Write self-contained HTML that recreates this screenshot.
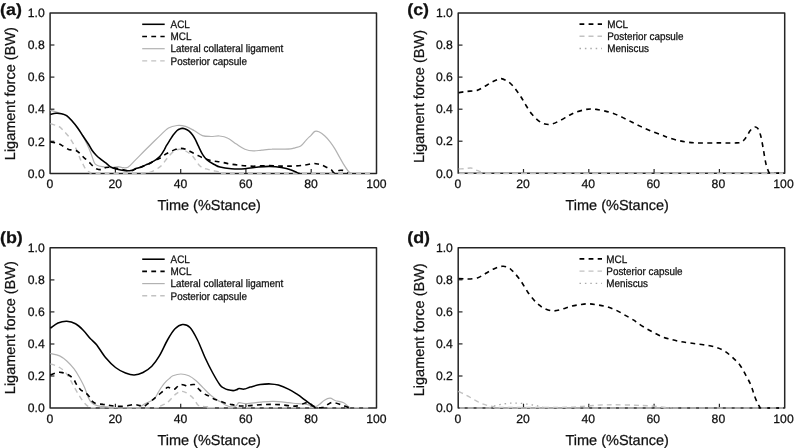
<!DOCTYPE html>
<html><head><meta charset="utf-8"><style>
html,body{margin:0;padding:0;background:#fff;width:795px;height:448px;overflow:hidden}
svg{display:block;will-change:transform}
text{font-family:"Liberation Sans",sans-serif;fill:#111;stroke:#111;stroke-width:0.25px;text-rendering:geometricPrecision}
.tk{font-size:12.2px}
.tt{font-size:14.5px}
.lg{font-size:9.9px}
.lt{font-size:16.4px;font-weight:bold}
</style></head><body>
<svg width="795" height="448" viewBox="0 0 795 448">
<rect x="0" y="0" width="795" height="448" fill="#fff"/>
<path d="M50.1,12.9 H376.5 V173.4 H50.1 Z" style="stroke:#252525;stroke-width:1.5;fill:none;stroke-linejoin:round"/>
<line x1="50.1" y1="141.3" x2="54.4" y2="141.3" style="stroke:#252525;stroke-width:1.2"/>
<line x1="115.4" y1="173.4" x2="115.4" y2="169.1" style="stroke:#252525;stroke-width:1.2"/>
<line x1="50.1" y1="109.2" x2="54.4" y2="109.2" style="stroke:#252525;stroke-width:1.2"/>
<line x1="180.7" y1="173.4" x2="180.7" y2="169.1" style="stroke:#252525;stroke-width:1.2"/>
<line x1="50.1" y1="77.1" x2="54.4" y2="77.1" style="stroke:#252525;stroke-width:1.2"/>
<line x1="245.9" y1="173.4" x2="245.9" y2="169.1" style="stroke:#252525;stroke-width:1.2"/>
<line x1="50.1" y1="45.0" x2="54.4" y2="45.0" style="stroke:#252525;stroke-width:1.2"/>
<line x1="311.2" y1="173.4" x2="311.2" y2="169.1" style="stroke:#252525;stroke-width:1.2"/>
<path d="M50.1,247.8 H376.5 V408.1 H50.1 Z" style="stroke:#252525;stroke-width:1.5;fill:none;stroke-linejoin:round"/>
<line x1="50.1" y1="376.0" x2="54.4" y2="376.0" style="stroke:#252525;stroke-width:1.2"/>
<line x1="115.4" y1="408.1" x2="115.4" y2="403.8" style="stroke:#252525;stroke-width:1.2"/>
<line x1="50.1" y1="344.0" x2="54.4" y2="344.0" style="stroke:#252525;stroke-width:1.2"/>
<line x1="180.7" y1="408.1" x2="180.7" y2="403.8" style="stroke:#252525;stroke-width:1.2"/>
<line x1="50.1" y1="311.9" x2="54.4" y2="311.9" style="stroke:#252525;stroke-width:1.2"/>
<line x1="245.9" y1="408.1" x2="245.9" y2="403.8" style="stroke:#252525;stroke-width:1.2"/>
<line x1="50.1" y1="279.9" x2="54.4" y2="279.9" style="stroke:#252525;stroke-width:1.2"/>
<line x1="311.2" y1="408.1" x2="311.2" y2="403.8" style="stroke:#252525;stroke-width:1.2"/>
<path d="M458.2,13.0 H784.7 V173.3 H458.2 Z" style="stroke:#252525;stroke-width:1.5;fill:none;stroke-linejoin:round"/>
<line x1="458.2" y1="141.2" x2="462.5" y2="141.2" style="stroke:#252525;stroke-width:1.2"/>
<line x1="523.5" y1="173.3" x2="523.5" y2="169.0" style="stroke:#252525;stroke-width:1.2"/>
<line x1="458.2" y1="109.2" x2="462.5" y2="109.2" style="stroke:#252525;stroke-width:1.2"/>
<line x1="588.8" y1="173.3" x2="588.8" y2="169.0" style="stroke:#252525;stroke-width:1.2"/>
<line x1="458.2" y1="77.1" x2="462.5" y2="77.1" style="stroke:#252525;stroke-width:1.2"/>
<line x1="654.1" y1="173.3" x2="654.1" y2="169.0" style="stroke:#252525;stroke-width:1.2"/>
<line x1="458.2" y1="45.1" x2="462.5" y2="45.1" style="stroke:#252525;stroke-width:1.2"/>
<line x1="719.4" y1="173.3" x2="719.4" y2="169.0" style="stroke:#252525;stroke-width:1.2"/>
<path d="M458.2,247.8 H784.7 V408.0 H458.2 Z" style="stroke:#252525;stroke-width:1.5;fill:none;stroke-linejoin:round"/>
<line x1="458.2" y1="376.0" x2="462.5" y2="376.0" style="stroke:#252525;stroke-width:1.2"/>
<line x1="523.5" y1="408.0" x2="523.5" y2="403.7" style="stroke:#252525;stroke-width:1.2"/>
<line x1="458.2" y1="343.9" x2="462.5" y2="343.9" style="stroke:#252525;stroke-width:1.2"/>
<line x1="588.8" y1="408.0" x2="588.8" y2="403.7" style="stroke:#252525;stroke-width:1.2"/>
<line x1="458.2" y1="311.9" x2="462.5" y2="311.9" style="stroke:#252525;stroke-width:1.2"/>
<line x1="654.1" y1="408.0" x2="654.1" y2="403.7" style="stroke:#252525;stroke-width:1.2"/>
<line x1="458.2" y1="279.8" x2="462.5" y2="279.8" style="stroke:#252525;stroke-width:1.2"/>
<line x1="719.4" y1="408.0" x2="719.4" y2="403.7" style="stroke:#252525;stroke-width:1.2"/>
<text x="44.8" y="177.6" class="tk" text-anchor="end">0.0</text>
<text x="44.8" y="145.5" class="tk" text-anchor="end">0.2</text>
<text x="44.8" y="113.4" class="tk" text-anchor="end">0.4</text>
<text x="44.8" y="81.3" class="tk" text-anchor="end">0.6</text>
<text x="44.8" y="49.2" class="tk" text-anchor="end">0.8</text>
<text x="44.8" y="17.1" class="tk" text-anchor="end">1.0</text>
<text x="49.9" y="188.3" class="tk" text-anchor="middle">0</text>
<text x="115.2" y="188.3" class="tk" text-anchor="middle">20</text>
<text x="180.5" y="188.3" class="tk" text-anchor="middle">40</text>
<text x="245.7" y="188.3" class="tk" text-anchor="middle">60</text>
<text x="311.0" y="188.3" class="tk" text-anchor="middle">80</text>
<text x="376.3" y="188.3" class="tk" text-anchor="middle">100</text>
<text x="209.1" y="210.3" class="tt" text-anchor="middle">Time (%Stance)</text>
<text transform="translate(14.8,93.7) rotate(-90)" class="tt" text-anchor="middle">Ligament force (BW)</text>
<text transform="translate(0.0,14.9) scale(1.09,1)" class="lt">(a)</text>
<text x="44.8" y="412.3" class="tk" text-anchor="end">0.0</text>
<text x="44.8" y="380.2" class="tk" text-anchor="end">0.2</text>
<text x="44.8" y="348.2" class="tk" text-anchor="end">0.4</text>
<text x="44.8" y="316.1" class="tk" text-anchor="end">0.6</text>
<text x="44.8" y="284.1" class="tk" text-anchor="end">0.8</text>
<text x="44.8" y="252.0" class="tk" text-anchor="end">1.0</text>
<text x="49.9" y="423.0" class="tk" text-anchor="middle">0</text>
<text x="115.2" y="423.0" class="tk" text-anchor="middle">20</text>
<text x="180.5" y="423.0" class="tk" text-anchor="middle">40</text>
<text x="245.7" y="423.0" class="tk" text-anchor="middle">60</text>
<text x="311.0" y="423.0" class="tk" text-anchor="middle">80</text>
<text x="376.3" y="423.0" class="tk" text-anchor="middle">100</text>
<text x="209.1" y="445.0" class="tt" text-anchor="middle">Time (%Stance)</text>
<text transform="translate(14.8,327.7) rotate(-90)" class="tt" text-anchor="middle">Ligament force (BW)</text>
<text transform="translate(0.0,242.8) scale(1.09,1)" class="lt">(b)</text>
<text x="452.9" y="177.5" class="tk" text-anchor="end">0.0</text>
<text x="452.9" y="145.4" class="tk" text-anchor="end">0.2</text>
<text x="452.9" y="113.4" class="tk" text-anchor="end">0.4</text>
<text x="452.9" y="81.3" class="tk" text-anchor="end">0.6</text>
<text x="452.9" y="49.3" class="tk" text-anchor="end">0.8</text>
<text x="452.9" y="17.2" class="tk" text-anchor="end">1.0</text>
<text x="458.0" y="188.2" class="tk" text-anchor="middle">0</text>
<text x="523.1" y="188.2" class="tk" text-anchor="middle">20</text>
<text x="588.2" y="188.2" class="tk" text-anchor="middle">40</text>
<text x="653.3" y="188.2" class="tk" text-anchor="middle">60</text>
<text x="718.4" y="188.2" class="tk" text-anchor="middle">80</text>
<text x="783.5" y="188.2" class="tk" text-anchor="middle">100</text>
<text x="617.2" y="210.2" class="tt" text-anchor="middle">Time (%Stance)</text>
<text transform="translate(423.9,96.5) rotate(-90)" class="tt" text-anchor="middle">Ligament force (BW)</text>
<text transform="translate(407.2,14.7) scale(1.09,1)" class="lt">(c)</text>
<text x="452.9" y="412.2" class="tk" text-anchor="end">0.0</text>
<text x="452.9" y="380.2" class="tk" text-anchor="end">0.2</text>
<text x="452.9" y="348.1" class="tk" text-anchor="end">0.4</text>
<text x="452.9" y="316.1" class="tk" text-anchor="end">0.6</text>
<text x="452.9" y="284.0" class="tk" text-anchor="end">0.8</text>
<text x="452.9" y="252.0" class="tk" text-anchor="end">1.0</text>
<text x="458.0" y="422.9" class="tk" text-anchor="middle">0</text>
<text x="523.1" y="422.9" class="tk" text-anchor="middle">20</text>
<text x="588.2" y="422.9" class="tk" text-anchor="middle">40</text>
<text x="653.3" y="422.9" class="tk" text-anchor="middle">60</text>
<text x="718.4" y="422.9" class="tk" text-anchor="middle">80</text>
<text x="783.5" y="422.9" class="tk" text-anchor="middle">100</text>
<text x="617.2" y="444.9" class="tt" text-anchor="middle">Time (%Stance)</text>
<text transform="translate(423.9,329.8) rotate(-90)" class="tt" text-anchor="middle">Ligament force (BW)</text>
<text transform="translate(407.2,242.6) scale(1.09,1)" class="lt">(d)</text>
<path d="M50.3,123.7 C51.7,124.2 56.6,125.4 58.7,126.4 C60.8,127.4 61.1,128.2 62.7,129.8 C64.3,131.4 66.3,133.5 68.1,135.8 C69.9,138.1 71.8,141.1 73.4,143.8 C75.0,146.5 76.4,149.4 77.5,151.9 C78.6,154.4 79.2,156.6 80.1,158.6 C81.0,160.6 81.8,162.1 82.8,163.9 C83.8,165.7 84.8,168.1 86.0,169.5 C87.2,170.9 88.5,171.9 90.0,172.5 C91.5,173.1 86.7,173.1 95.0,173.2 C103.3,173.3 131.5,173.3 140.0,173.2 C148.5,173.1 144.0,172.9 146.0,172.6 C148.0,172.3 149.4,172.7 151.8,171.6 C154.2,170.5 158.0,168.6 160.7,166.2 C163.4,163.9 165.7,159.8 167.9,157.3 C170.1,154.8 172.2,152.3 174.1,151.0 C176.0,149.7 177.6,149.3 179.5,149.3 C181.4,149.3 183.5,149.8 185.7,151.0 C187.9,152.2 190.5,153.9 192.9,156.4 C195.3,158.9 197.5,163.8 200.0,166.0 C202.5,168.2 205.0,168.5 208.0,169.4 C211.0,170.3 215.1,171.0 217.9,171.6 C220.7,172.2 222.7,172.7 225.0,173.0 C227.3,173.3 207.8,173.2 232.0,173.2 C256.2,173.2 347.0,173.2 370.0,173.2" style="stroke:#c2c2c2;stroke-width:1.4;fill:none;stroke-dasharray:5 4"/>
<path d="M50.3,110.4 C51.5,110.7 55.1,111.7 57.4,112.4 C59.7,113.1 61.8,113.2 64.0,114.4 C66.2,115.6 68.5,117.5 70.8,119.7 C73.0,121.9 75.5,124.9 77.5,127.6 C79.5,130.2 81.2,132.9 82.8,135.6 C84.3,138.3 85.4,140.9 86.8,143.8 C88.2,146.7 89.7,150.1 90.9,153.2 C92.1,156.3 93.2,160.4 94.2,162.4 C95.2,164.4 95.7,164.5 97.0,165.2 C98.3,165.9 99.9,166.2 102.1,166.6 C104.3,167.0 107.4,167.6 110.1,167.6 C112.8,167.6 116.2,166.6 118.2,166.6 C120.2,166.6 120.5,167.5 122.2,167.6 C123.9,167.7 126.0,168.3 128.2,167.1 C130.4,165.8 132.8,162.6 135.3,160.1 C137.8,157.6 140.8,154.5 143.3,152.0 C145.8,149.5 147.6,147.7 150.4,145.0 C153.2,142.3 157.0,138.4 160.0,135.6 C163.0,132.8 165.7,129.7 168.5,128.0 C171.3,126.3 174.2,125.8 177.0,125.5 C179.8,125.2 182.7,125.5 185.5,126.3 C188.3,127.1 191.2,128.9 194.0,130.5 C196.8,132.1 199.6,134.6 202.4,135.6 C205.2,136.6 208.1,136.4 210.9,136.5 C213.7,136.6 216.6,135.7 219.4,136.0 C222.2,136.3 225.1,136.8 227.9,138.2 C230.7,139.5 233.6,142.3 236.4,144.1 C239.2,145.9 242.1,148.1 244.9,149.2 C247.7,150.3 250.5,150.8 253.3,150.9 C256.1,151.1 258.7,150.4 261.8,150.1 C264.9,149.8 268.6,149.3 272.0,149.2 C275.4,149.0 278.9,149.2 282.0,149.2 C285.1,149.1 288.3,149.1 290.5,148.9 C292.7,148.7 293.3,148.3 295.0,147.8 C296.7,147.3 298.8,147.4 300.7,146.1 C302.6,144.8 304.7,141.6 306.4,139.8 C308.1,138.0 309.6,136.7 311.0,135.3 C312.4,133.9 313.6,132.0 314.9,131.4 C316.2,130.8 317.3,131.1 318.9,131.8 C320.5,132.5 322.7,134.1 324.6,135.8 C326.5,137.5 328.6,139.9 330.3,142.1 C332.0,144.3 333.4,146.4 334.9,148.9 C336.4,151.4 337.9,154.2 339.4,156.9 C340.9,159.6 342.5,162.5 344.0,164.9 C345.5,167.3 347.3,170.1 348.5,171.5 C349.7,172.9 350.6,173.0 351.0,173.3" style="stroke:#b2b2b2;stroke-width:1.2;fill:none"/>
<path d="M50.3,141.8 C51.7,142.1 56.6,143.1 58.7,143.8 C60.8,144.5 61.4,145.1 63.0,146.0 C64.6,146.9 66.6,148.5 68.1,149.2 C69.6,149.9 70.7,149.8 72.0,150.0 C73.3,150.2 74.8,149.9 76.1,150.5 C77.4,151.1 78.7,152.3 80.0,153.5 C81.3,154.7 82.8,156.6 84.2,157.9 C85.6,159.2 86.7,159.8 88.2,161.2 C89.7,162.6 91.5,164.8 93.0,166.1 C94.5,167.4 95.5,168.5 97.0,169.1 C98.5,169.7 100.5,169.8 102.0,169.5 C103.5,169.2 104.3,167.8 106.0,167.5 C107.7,167.2 109.7,167.2 112.0,167.5 C114.3,167.8 117.0,168.4 120.0,169.0 C123.0,169.6 127.5,170.9 130.0,171.0 C132.5,171.1 133.5,169.8 135.0,169.3 C136.5,168.8 137.6,168.4 139.0,167.9 C140.4,167.4 141.9,166.8 143.3,166.2 C144.7,165.6 146.0,165.1 147.4,164.5 C148.8,163.9 150.3,163.1 151.5,162.5 C152.7,161.9 153.5,161.5 154.5,161.0 C155.5,160.5 156.3,159.9 157.3,159.4 C158.3,158.9 159.3,158.7 160.7,157.8 C162.1,156.9 164.1,155.2 165.6,154.2 C167.1,153.2 168.0,152.8 169.7,152.0 C171.4,151.2 174.1,149.9 175.9,149.3 C177.7,148.7 178.8,148.4 180.4,148.4 C182.0,148.4 183.3,148.4 185.7,149.3 C188.1,150.2 191.6,152.3 194.6,153.8 C197.6,155.2 200.6,157.0 203.6,158.2 C206.6,159.4 209.8,160.3 212.5,160.9 C215.2,161.5 217.4,161.4 220.0,161.8 C222.6,162.2 224.6,163.0 227.9,163.6 C231.2,164.2 235.6,164.9 239.8,165.3 C244.0,165.7 248.5,166.1 253.3,166.2 C258.1,166.2 263.9,165.6 268.6,165.6 C273.3,165.6 277.3,166.0 281.3,166.1 C285.3,166.2 288.8,166.2 292.6,166.1 C296.4,165.9 300.6,165.6 304.0,165.2 C307.4,164.8 310.7,163.8 313.0,163.6 C315.3,163.4 316.5,163.7 318.0,164.0 C319.5,164.3 320.6,164.6 322.1,165.2 C323.6,165.8 325.5,166.8 327.0,167.5 C328.5,168.2 330.1,168.9 331.2,169.7 C332.3,170.5 332.6,171.9 333.4,172.4 C334.2,172.9 335.1,172.9 336.0,172.6 C336.9,172.3 337.9,171.0 339.0,170.6 C340.1,170.2 341.4,170.2 342.5,170.4 C343.6,170.6 344.6,171.5 345.5,172.0 C346.4,172.5 347.7,173.0 348.1,173.2" style="stroke:#000;stroke-width:1.6;fill:none;stroke-dasharray:4.8 4.3"/>
<path d="M50.3,114.4 C51.2,114.2 54.1,113.4 56.0,113.3 C57.9,113.2 59.6,113.3 61.4,113.7 C63.2,114.1 64.9,114.5 66.7,115.7 C68.5,116.9 70.3,119.1 72.1,121.1 C73.9,123.1 75.7,125.3 77.5,127.8 C79.3,130.2 81.0,133.1 82.8,135.8 C84.6,138.5 86.6,141.4 88.2,143.8 C89.8,146.2 90.9,148.6 92.2,150.5 C93.5,152.4 94.6,153.6 96.2,155.2 C97.8,156.8 99.8,158.4 101.6,159.9 C103.4,161.4 105.5,162.8 106.9,163.9 C108.3,165.0 108.5,165.7 110.1,166.6 C111.6,167.5 113.7,168.4 116.2,169.1 C118.7,169.8 122.5,170.5 125.2,170.7 C127.9,170.9 130.7,170.5 132.3,170.2 C133.9,169.9 133.9,169.3 135.0,168.9 C136.1,168.5 137.6,168.2 139.0,167.7 C140.4,167.2 141.9,166.6 143.3,166.0 C144.7,165.4 146.0,164.9 147.4,164.3 C148.8,163.7 150.3,162.9 151.5,162.3 C152.7,161.7 153.5,161.2 154.5,160.6 C155.5,160.0 156.4,159.3 157.3,158.6 C158.2,157.9 159.2,157.1 160.0,156.2 C160.8,155.3 161.6,154.3 162.3,153.2 C163.0,152.1 163.7,150.9 164.4,149.7 C165.1,148.4 165.7,146.9 166.4,145.7 C167.1,144.5 167.8,143.4 168.5,142.3 C169.2,141.2 169.7,140.3 170.5,139.1 C171.3,137.9 172.1,136.4 173.2,135.0 C174.3,133.6 175.9,131.6 177.1,130.5 C178.3,129.4 179.4,129.0 180.3,128.7 C181.2,128.3 181.8,128.4 182.5,128.4 C183.2,128.4 183.7,128.3 184.7,128.7 C185.7,129.1 187.5,129.9 188.8,130.9 C190.0,131.9 191.4,133.4 192.4,134.7 C193.4,136.0 194.0,137.0 195.0,138.8 C196.0,140.6 196.9,143.1 198.2,145.7 C199.5,148.3 201.2,152.2 202.7,154.6 C204.2,157.0 205.2,158.3 207.1,160.0 C209.0,161.7 212.2,163.3 214.3,164.5 C216.5,165.7 217.2,166.4 220.0,167.1 C222.8,167.8 227.2,168.4 231.3,168.7 C235.5,169.0 240.4,169.0 244.9,168.7 C249.4,168.4 254.2,167.4 258.4,167.0 C262.6,166.6 266.2,166.3 270.0,166.4 C273.8,166.5 277.9,166.9 281.3,167.5 C284.7,168.1 287.8,168.8 290.4,169.7 C293.0,170.5 295.7,172.0 297.2,172.6 C298.7,173.2 299.1,173.2 299.5,173.3" style="stroke:#000;stroke-width:1.55;fill:none"/>
<path d="M50.3,363.8 C51.8,364.4 56.9,365.8 59.6,367.5 C62.4,369.2 64.6,371.2 66.8,374.0 C69.0,376.8 70.7,380.7 72.6,384.1 C74.5,387.5 76.5,391.2 78.4,394.3 C80.3,397.4 82.5,400.8 84.2,402.8 C85.9,404.9 86.8,405.8 88.6,406.6 C90.4,407.4 83.9,407.6 95.0,407.8 C106.1,408.0 144.2,408.1 155.0,407.8 C165.8,407.5 158.5,406.8 160.0,406.2 C161.5,405.6 162.7,405.0 163.9,404.4 C165.2,403.8 166.0,403.9 167.5,402.6 C169.0,401.3 171.4,398.3 172.9,396.8 C174.4,395.3 175.1,394.6 176.4,393.7 C177.7,392.8 179.4,391.6 180.9,391.4 C182.4,391.2 183.8,391.6 185.4,392.3 C187.0,393.1 189.2,394.7 190.7,395.9 C192.2,397.1 193.1,398.0 194.3,399.5 C195.5,401.0 196.7,403.9 197.9,405.0 C199.1,406.1 199.9,405.9 201.4,406.2 C202.9,406.5 205.0,406.6 206.8,406.8 C208.6,407.0 209.8,407.4 212.0,407.6 C214.2,407.8 193.7,407.8 220.0,407.8 C246.3,407.8 345.0,407.8 370.0,407.8" style="stroke:#c2c2c2;stroke-width:1.4;fill:none;stroke-dasharray:5 4"/>
<path d="M50.3,353.4 C51.8,353.8 56.9,354.6 59.6,355.9 C62.4,357.2 64.4,358.8 66.8,361.0 C69.2,363.2 71.9,366.0 74.1,368.9 C76.3,371.8 78.1,375.0 79.9,378.3 C81.7,381.6 83.7,385.4 85.0,388.5 C86.3,391.6 86.8,394.4 87.9,396.8 C89.0,399.2 89.9,401.1 91.5,402.6 C93.1,404.1 94.9,405.0 97.3,405.7 C99.7,406.4 103.0,406.5 106.0,406.8 C109.0,407.1 110.0,407.5 115.0,407.6 C120.0,407.7 131.8,407.8 136.0,407.6 C140.2,407.4 138.6,407.3 140.2,406.6 C141.8,405.9 143.6,404.5 145.5,403.5 C147.4,402.5 150.2,401.4 151.8,400.4 C153.5,399.4 154.4,398.7 155.4,397.4 C156.4,396.1 157.0,394.5 158.0,392.8 C159.0,391.1 160.2,388.9 161.6,387.0 C162.9,385.1 164.7,382.9 166.1,381.4 C167.5,379.9 168.9,378.9 170.0,378.0 C171.1,377.1 171.1,376.5 172.9,375.8 C174.7,375.1 178.2,374.0 180.9,374.0 C183.6,374.0 186.4,374.7 188.9,375.8 C191.4,376.9 193.7,378.7 196.1,380.7 C198.5,382.7 200.8,385.5 203.2,387.9 C205.6,390.3 208.0,392.9 210.4,395.0 C212.8,397.1 215.7,399.0 217.5,400.2 C219.3,401.4 219.6,401.2 221.0,402.0 C222.4,402.8 224.0,404.3 226.0,405.2 C228.0,406.1 231.3,407.1 233.1,407.2 C234.8,407.2 235.5,406.3 236.5,405.5 C237.5,404.7 237.5,402.9 239.1,402.6 C240.7,402.3 242.7,403.8 246.2,403.7 C249.7,403.6 255.7,402.6 260.2,402.2 C264.7,401.8 268.6,401.3 273.3,401.4 C278.0,401.5 284.4,402.3 288.4,402.7 C292.4,403.1 294.0,403.4 297.1,403.7 C300.2,404.0 303.9,403.8 306.8,404.3 C309.8,404.8 312.7,406.7 314.8,406.7 C316.9,406.7 318.0,405.4 319.6,404.3 C321.2,403.2 322.6,401.2 324.4,400.2 C326.1,399.2 328.2,398.1 330.1,398.2 C332.0,398.3 333.4,399.9 335.7,400.7 C338.0,401.4 341.6,401.7 343.7,402.7 C345.8,403.7 347.4,405.8 348.5,406.7 C349.6,407.6 349.8,407.6 350.1,407.8" style="stroke:#b2b2b2;stroke-width:1.2;fill:none"/>
<path d="M50.3,375.0 C51.4,374.6 54.7,373.0 56.7,372.6 C58.7,372.2 60.6,372.2 62.5,372.6 C64.4,373.0 66.5,373.6 68.3,374.7 C70.1,375.8 72.0,377.2 73.4,379.0 C74.9,380.8 75.7,383.4 77.0,385.3 C78.3,387.2 80.1,389.3 81.3,390.4 C82.5,391.4 83.0,390.7 84.2,391.6 C85.4,392.5 87.4,394.2 88.6,395.7 C89.8,397.2 90.3,399.3 91.5,400.6 C92.7,401.9 93.9,403.0 95.8,403.6 C97.7,404.2 101.0,404.1 103.0,404.4 C105.0,404.6 105.9,404.8 108.0,405.1 C110.1,405.4 112.7,406.1 115.5,406.2 C118.3,406.4 121.9,406.5 125.0,406.2 C128.1,405.9 131.5,404.6 134.0,404.5 C136.5,404.4 138.3,405.3 140.0,405.6 C141.7,405.9 142.7,406.8 144.0,406.4 C145.3,406.0 146.7,404.5 148.0,403.5 C149.3,402.5 150.7,401.4 152.0,400.3 C153.3,399.2 154.5,398.2 156.0,397.0 C157.5,395.8 159.3,394.3 160.8,393.0 C162.3,391.7 163.8,390.3 165.0,389.3 C166.2,388.3 166.9,387.2 168.0,387.2 C169.1,387.1 170.4,388.7 171.5,389.0 C172.6,389.3 173.5,389.6 174.5,389.2 C175.5,388.8 176.5,387.3 177.5,386.5 C178.5,385.7 179.3,384.9 180.4,384.6 C181.5,384.4 182.8,384.7 184.0,385.0 C185.2,385.3 186.4,386.2 187.5,386.2 C188.6,386.2 189.4,385.3 190.5,385.0 C191.6,384.7 193.1,384.1 194.3,384.6 C195.6,385.2 196.5,386.9 198.0,388.3 C199.5,389.7 201.4,391.9 203.2,393.2 C205.0,394.5 206.8,394.9 208.6,395.9 C210.4,396.9 212.1,398.2 213.9,399.0 C215.7,399.8 217.5,400.1 219.3,400.8 C221.2,401.5 223.2,402.4 225.0,403.0 C226.8,403.6 227.5,403.7 230.0,404.2 C232.5,404.7 236.7,405.8 240.1,406.0 C243.5,406.2 246.8,405.8 250.2,405.6 C253.5,405.4 256.8,404.9 260.2,404.7 C263.6,404.5 266.9,404.4 270.3,404.4 C273.7,404.4 277.0,404.4 280.4,404.7 C283.8,404.9 287.6,405.7 290.4,405.9 C293.2,406.1 294.6,406.4 297.1,405.9 C299.6,405.4 303.3,403.5 305.2,403.0 C307.1,402.5 307.1,402.5 308.4,403.0 C309.7,403.5 311.8,405.1 313.2,405.9 C314.6,406.7 315.5,407.3 317.0,407.6 C318.5,407.9 320.6,407.8 322.0,407.6 C323.4,407.4 324.4,407.0 325.5,406.4 C326.6,405.8 327.5,404.6 328.5,404.0 C329.5,403.4 330.4,402.8 331.5,402.6 C332.6,402.4 333.8,402.7 335.0,402.9 C336.2,403.1 337.7,403.6 338.9,404.0 C340.1,404.4 340.9,404.8 342.0,405.2 C343.1,405.6 344.2,405.8 345.3,406.2 C346.4,406.6 347.7,407.3 348.5,407.6 C349.3,407.9 349.8,407.9 350.0,408.0" style="stroke:#000;stroke-width:1.6;fill:none;stroke-dasharray:4.8 4.3"/>
<path d="M50.3,328.2 C51.6,327.4 55.3,324.2 58.0,323.0 C60.7,321.8 63.8,321.1 66.8,321.2 C69.7,321.4 72.8,322.3 75.5,323.8 C78.2,325.2 80.5,327.5 83.0,330.0 C85.5,332.5 88.2,336.2 90.5,338.8 C92.8,341.2 94.2,341.9 96.8,345.0 C99.2,348.1 102.4,353.8 105.5,357.5 C108.6,361.2 112.2,364.9 115.5,367.5 C118.8,370.1 122.4,371.8 125.5,373.0 C128.6,374.2 131.3,375.1 134.2,375.0 C137.2,374.9 140.1,374.0 143.0,372.5 C145.9,371.0 149.0,369.0 151.8,366.2 C154.5,363.5 156.6,360.6 159.2,356.2 C161.9,351.9 164.9,344.6 167.5,340.0 C170.1,335.4 172.5,331.3 175.0,328.8 C177.5,326.2 180.0,324.7 182.5,324.5 C185.0,324.3 187.5,324.9 190.0,327.5 C192.5,330.1 195.0,335.0 197.5,340.0 C200.0,345.0 202.5,352.1 205.0,357.5 C207.5,362.9 210.0,367.9 212.5,372.5 C215.0,377.1 218.1,382.4 220.0,385.0 C221.9,387.6 222.7,387.3 224.0,388.1 C225.3,388.9 226.5,389.4 228.0,389.8 C229.5,390.2 231.7,390.6 233.1,390.6 C234.5,390.6 235.5,390.1 236.5,389.8 C237.5,389.5 237.8,388.7 239.1,388.6 C240.4,388.5 242.2,389.4 244.1,389.1 C245.9,388.9 247.5,387.9 250.2,387.1 C252.9,386.4 256.8,385.1 260.2,384.6 C263.6,384.1 267.3,383.8 270.3,383.9 C273.3,384.0 275.4,384.2 278.4,385.1 C281.4,386.0 285.3,387.6 288.4,389.1 C291.5,390.6 294.2,392.4 297.0,394.2 C299.8,396.0 302.8,398.4 305.2,400.2 C307.6,402.0 309.9,403.8 311.6,405.1 C313.3,406.4 314.9,407.4 315.6,407.8" style="stroke:#000;stroke-width:1.55;fill:none"/>
<path d="M458.6,173.3 C458.8,173.3 459.8,173.3 460.0,173.3" style="stroke:#aaaaaa;stroke-width:1.3;fill:none;stroke-dasharray:1.5 3.9"/>
<path d="M458.6,169.0 C459.7,168.9 462.9,168.8 465.0,168.6 C467.1,168.4 469.2,167.8 471.0,168.0 C472.8,168.2 474.3,169.4 476.0,170.0 C477.7,170.6 479.3,171.3 481.0,171.8 C482.7,172.3 484.5,172.8 486.0,173.1 C487.5,173.3 489.3,173.3 490.0,173.3" style="stroke:#c2c2c2;stroke-width:1.4;fill:none;stroke-dasharray:5 4"/>
<path d="M458.6,92.6 C459.5,92.5 462.1,92.0 464.0,91.8 C465.9,91.5 467.9,91.3 470.1,91.1 C472.3,90.9 475.1,90.9 477.1,90.4 C479.1,89.9 480.3,88.9 482.0,88.0 C483.7,87.1 485.5,86.0 487.2,85.0 C488.9,84.0 490.3,82.9 492.0,82.0 C493.7,81.1 495.8,80.2 497.3,79.6 C498.9,79.0 499.8,78.4 501.3,78.6 C502.8,78.8 504.8,79.8 506.3,80.6 C507.8,81.4 509.1,82.3 510.5,83.5 C511.9,84.7 513.1,86.1 514.4,87.6 C515.6,89.1 516.7,90.8 518.0,92.6 C519.3,94.4 520.7,96.4 522.0,98.5 C523.3,100.6 524.2,102.5 525.9,105.2 C527.6,107.9 529.7,111.7 532.2,114.5 C534.7,117.3 537.8,120.6 540.8,122.3 C543.8,124.0 547.1,124.7 550.2,124.4 C553.3,124.2 556.4,122.3 559.5,120.8 C562.6,119.3 566.1,117.0 568.9,115.5 C571.7,114.0 573.4,113.0 576.3,112.0 C579.2,111.0 583.9,109.9 586.4,109.4 C588.9,108.9 589.7,109.0 591.4,109.0 C593.1,109.0 594.1,109.1 596.4,109.4 C598.7,109.8 602.3,110.4 605.3,111.1 C608.2,111.8 611.2,112.7 614.1,113.8 C617.0,114.9 620.0,116.2 622.9,117.6 C625.8,119.0 628.8,120.5 631.7,122.0 C634.6,123.5 637.4,124.9 640.5,126.4 C643.6,127.9 646.9,129.3 650.5,130.8 C654.1,132.3 659.0,134.1 661.9,135.2 C664.8,136.3 665.4,136.8 668.0,137.6 C670.6,138.4 674.5,139.6 677.6,140.3 C680.7,141.0 683.2,141.6 686.4,142.0 C689.5,142.4 691.1,142.8 696.5,142.9 C701.9,143.1 711.8,142.9 718.5,142.9 C725.2,142.9 733.0,143.1 736.8,142.9 C740.6,142.8 740.2,142.6 741.5,142.0 C742.8,141.4 743.6,140.5 744.5,139.5 C745.4,138.5 746.0,137.5 747.0,136.0 C748.0,134.5 749.1,131.8 750.4,130.3 C751.6,128.8 753.3,127.4 754.5,127.1 C755.7,126.8 756.8,127.1 757.8,128.4 C758.8,129.7 759.7,132.4 760.5,135.1 C761.3,137.8 761.9,141.4 762.5,144.5 C763.1,147.6 763.6,150.7 764.1,153.8 C764.6,156.9 765.2,160.5 765.8,163.2 C766.4,165.9 767.1,168.3 767.9,169.9 C768.7,171.5 767.8,172.4 770.5,172.9 C773.2,173.4 781.8,173.1 784.0,173.1" style="stroke:#000;stroke-width:1.6;fill:none;stroke-dasharray:4.8 4.3"/>
<path d="M489.0,407.8 C489.6,407.6 491.4,407.2 492.5,406.8 C493.6,406.4 494.3,405.8 495.8,405.4 C497.3,405.0 499.5,404.6 501.4,404.3 C503.3,404.0 505.2,403.6 507.1,403.4 C509.0,403.2 510.9,403.2 512.8,403.1 C514.7,403.1 516.5,403.0 518.4,403.1 C520.3,403.2 522.2,403.5 524.1,403.7 C526.0,403.9 527.8,404.2 529.7,404.5 C531.6,404.8 533.7,405.1 535.4,405.4 C537.1,405.7 538.5,406.1 540.0,406.5 C541.5,406.9 543.3,407.4 544.5,407.6 C545.7,407.8 546.6,407.8 547.0,407.9" style="stroke:#aaaaaa;stroke-width:1.3;fill:none;stroke-dasharray:1.5 3.9"/>
<path d="M458.4,391.4 C459.7,392.0 463.6,393.7 466.0,395.0 C468.4,396.3 470.6,397.6 473.0,399.0 C475.4,400.4 478.4,402.1 480.7,403.2 C483.0,404.2 484.9,404.7 487.0,405.3 C489.1,405.9 491.3,406.2 493.5,406.6 C495.7,407.0 488.9,407.3 500.0,407.4 C511.1,407.5 545.8,407.6 560.0,407.4 C574.2,407.2 578.3,406.6 585.0,406.2 C591.7,405.8 595.0,405.2 600.0,405.0 C605.0,404.8 609.2,404.8 615.0,404.8 C620.8,404.8 629.1,405.0 635.0,405.2 C640.9,405.4 645.1,405.5 650.2,405.9 C655.3,406.3 662.0,407.1 665.6,407.5 C669.2,407.9 670.9,407.9 672.0,408.0" style="stroke:#c2c2c2;stroke-width:1.4;fill:none;stroke-dasharray:5 4"/>
<path d="M458.6,278.6 C459.5,278.6 462.1,278.7 464.0,278.8 C465.9,278.9 468.0,279.2 470.3,279.0 C472.6,278.8 475.8,278.4 477.9,277.7 C480.0,277.0 481.3,275.9 483.0,275.0 C484.7,274.1 486.4,273.0 488.1,272.0 C489.8,271.0 491.3,270.0 493.0,269.2 C494.7,268.4 496.6,267.5 498.3,267.0 C500.0,266.5 501.6,266.2 503.3,266.3 C505.0,266.4 507.0,266.9 508.4,267.5 C509.8,268.1 510.4,269.0 511.5,270.0 C512.6,271.0 513.2,271.4 514.8,273.3 C516.4,275.2 519.1,278.4 521.2,281.5 C523.3,284.6 525.4,288.6 527.5,291.7 C529.6,294.8 532.0,297.8 533.9,300.0 C535.8,302.2 537.3,303.4 539.0,304.8 C540.7,306.2 541.8,307.3 544.1,308.3 C546.4,309.3 549.9,310.8 552.9,310.9 C555.9,311.0 559.0,310.0 562.0,309.2 C565.0,308.4 568.0,307.1 571.0,306.3 C574.0,305.5 577.1,305.0 580.1,304.6 C583.1,304.2 586.2,303.7 589.2,303.8 C592.2,303.9 595.2,304.5 598.2,305.0 C601.2,305.5 604.3,306.0 607.3,306.9 C610.3,307.8 613.3,308.9 616.3,310.3 C619.3,311.7 622.6,313.8 625.4,315.4 C628.2,317.0 631.2,318.6 633.3,319.9 C635.4,321.2 636.2,322.0 638.0,323.2 C639.8,324.4 641.4,325.5 643.8,327.0 C646.2,328.5 649.5,330.3 652.6,332.0 C655.8,333.7 659.6,335.8 662.7,337.0 C665.9,338.2 668.6,338.7 671.5,339.5 C674.4,340.3 677.4,341.0 680.3,341.6 C683.2,342.2 686.0,342.5 689.1,342.9 C692.2,343.3 695.5,343.8 698.6,344.2 C701.8,344.6 705.0,344.8 708.0,345.4 C711.0,346.0 714.1,346.7 716.8,347.6 C719.5,348.5 721.8,349.3 724.4,350.9 C727.0,352.5 729.6,354.8 732.2,357.2 C734.8,359.6 737.7,362.1 740.0,365.2 C742.3,368.3 744.4,372.6 746.2,376.0 C748.1,379.4 749.7,382.2 751.0,385.3 C752.3,388.4 753.0,391.6 754.0,394.5 C755.0,397.4 756.3,400.5 757.2,402.5 C758.1,404.5 758.8,405.5 759.5,406.4 C760.2,407.3 757.4,407.6 761.5,407.9 C765.6,408.1 780.2,407.9 784.0,407.9" style="stroke:#000;stroke-width:1.6;fill:none;stroke-dasharray:4.8 4.3"/>
<line x1="459.7" y1="173.3" x2="783.2" y2="173.3" style="stroke:#c4c4c4;stroke-width:1.7;stroke-dasharray:6 2.9;stroke-dashoffset:1"/>
<line x1="459.7" y1="408.0" x2="783.2" y2="408.0" style="stroke:#c4c4c4;stroke-width:1.7;stroke-dasharray:6 2.9;stroke-dashoffset:1"/>
<line x1="142.2" y1="24.3" x2="164.7" y2="24.3" style="stroke:#000;stroke-width:1.55;fill:none"/>
<text transform="translate(170.6,28.0) scale(1,1.1)" class="lg">ACL</text>
<line x1="142.2" y1="36.5" x2="164.7" y2="36.5" style="stroke:#000;stroke-width:1.6;fill:none;stroke-dasharray:4.8 4.3"/>
<text transform="translate(170.6,40.2) scale(1,1.1)" class="lg">MCL</text>
<line x1="142.2" y1="48.7" x2="164.7" y2="48.7" style="stroke:#b2b2b2;stroke-width:1.2;fill:none"/>
<text transform="translate(170.6,52.4) scale(1,1.1)" class="lg">Lateral collateral ligament</text>
<line x1="142.2" y1="60.9" x2="164.7" y2="60.9" style="stroke:#c2c2c2;stroke-width:1.4;fill:none;stroke-dasharray:5 4"/>
<text transform="translate(170.6,64.6) scale(1,1.1)" class="lg">Posterior capsule</text>
<line x1="142.2" y1="259.2" x2="164.7" y2="259.2" style="stroke:#000;stroke-width:1.55;fill:none"/>
<text transform="translate(170.6,262.9) scale(1,1.1)" class="lg">ACL</text>
<line x1="142.2" y1="271.4" x2="164.7" y2="271.4" style="stroke:#000;stroke-width:1.6;fill:none;stroke-dasharray:4.8 4.3"/>
<text transform="translate(170.6,275.1) scale(1,1.1)" class="lg">MCL</text>
<line x1="142.2" y1="283.6" x2="164.7" y2="283.6" style="stroke:#b2b2b2;stroke-width:1.2;fill:none"/>
<text transform="translate(170.6,287.3) scale(1,1.1)" class="lg">Lateral collateral ligament</text>
<line x1="142.2" y1="295.8" x2="164.7" y2="295.8" style="stroke:#c2c2c2;stroke-width:1.4;fill:none;stroke-dasharray:5 4"/>
<text transform="translate(170.6,299.5) scale(1,1.1)" class="lg">Posterior capsule</text>
<line x1="579.5" y1="24.1" x2="602.0" y2="24.1" style="stroke:#000;stroke-width:1.6;fill:none;stroke-dasharray:4.8 4.3"/>
<text transform="translate(607.2,27.8) scale(1,1.1)" class="lg">MCL</text>
<line x1="579.5" y1="36.3" x2="602.0" y2="36.3" style="stroke:#c2c2c2;stroke-width:1.4;fill:none;stroke-dasharray:5 4"/>
<text transform="translate(607.2,40.0) scale(1,1.1)" class="lg">Posterior capsule</text>
<line x1="579.5" y1="48.5" x2="602.0" y2="48.5" style="stroke:#aaaaaa;stroke-width:1.3;fill:none;stroke-dasharray:1.5 3.9"/>
<text transform="translate(607.2,52.2) scale(1,1.1)" class="lg">Meniscus</text>
<line x1="579.5" y1="258.9" x2="602.0" y2="258.9" style="stroke:#000;stroke-width:1.6;fill:none;stroke-dasharray:4.8 4.3"/>
<text transform="translate(606.3,262.6) scale(1,1.1)" class="lg">MCL</text>
<line x1="579.5" y1="271.1" x2="602.0" y2="271.1" style="stroke:#c2c2c2;stroke-width:1.4;fill:none;stroke-dasharray:5 4"/>
<text transform="translate(606.3,274.8) scale(1,1.1)" class="lg">Posterior capsule</text>
<line x1="579.5" y1="283.3" x2="602.0" y2="283.3" style="stroke:#aaaaaa;stroke-width:1.3;fill:none;stroke-dasharray:1.5 3.9"/>
<text transform="translate(606.3,287.0) scale(1,1.1)" class="lg">Meniscus</text>
</svg>
</body></html>
